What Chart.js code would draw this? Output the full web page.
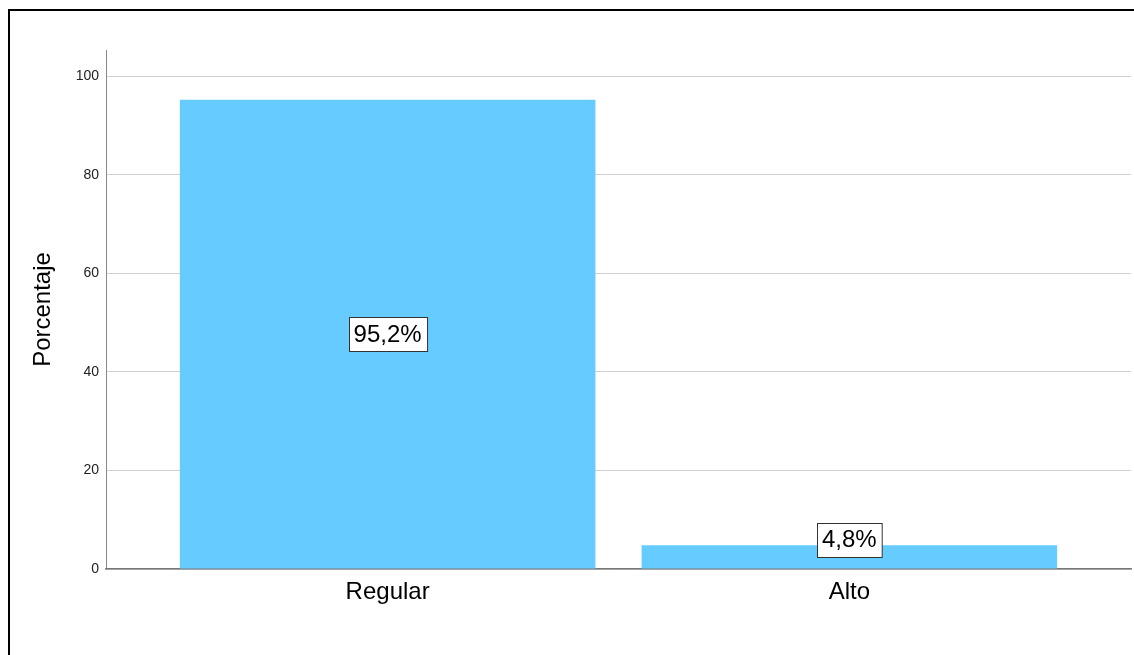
<!DOCTYPE html>
<html>
<head>
<meta charset="utf-8">
<script src="https://cdn.jsdelivr.net/npm/chart.js@4.4.1/dist/chart.umd.min.js"></script>
<style>
html,body{margin:0;padding:0;background:#fff;}
#wrap{width:1134px;height:655px;position:relative;}
</style>
</head>
<body>
<div id="wrap"><canvas id="c" width="1134" height="655"></canvas></div>
<script>
const categories = ['Regular', 'Alto'];
const percentages = [95.2, 4.8];
const valueLabels = ['95,2%', '4,8%'];
const yTickValues = [0, 20, 40, 60, 80, 100];
const yTitle = 'Porcentaje';

const FONT = "'Liberation Sans', Arial, sans-serif";

const frame = {
  id: 'frame',
  beforeDraw(chart) {
    const ctx = chart.ctx;
    ctx.save();
    ctx.fillStyle = '#fff';
    ctx.fillRect(0, 0, chart.width, chart.height);
    ctx.strokeStyle = '#000';
    ctx.lineWidth = 2;
    ctx.beginPath();
    ctx.moveTo(9, chart.height);
    ctx.lineTo(9, 10);
    ctx.lineTo(chart.width, 10);
    ctx.stroke();
    ctx.restore();
  }
};

const boxLabels = {
  id: 'boxLabels',
  afterDatasetsDraw(chart) {
    const ctx = chart.ctx;
    const meta = chart.getDatasetMeta(0);
    ctx.save();
    ctx.font = '24px ' + FONT;
    ctx.textAlign = 'center';
    ctx.textBaseline = 'middle';
    meta.data.forEach((el, i) => {
      const txt = valueLabels[i];
      const w = ctx.measureText(txt).width + 10;
      const h = 34;
      const mid = (el.y + el.base) / 2;
      const cy = Math.min(mid, el.base - 29);
      const x0 = Math.round(el.x - w / 2) + 0.5;
      const y0 = Math.round(cy - h / 2) + 0.5;
      ctx.fillStyle = '#fff';
      ctx.fillRect(x0, y0, w, h);
      ctx.strokeStyle = '#333';
      ctx.lineWidth = 1;
      ctx.strokeRect(x0, y0, w, h);
      ctx.fillStyle = '#000';
      ctx.fillText(txt, el.x, cy + 1);
    });
    ctx.restore();
  }
};

new Chart(document.getElementById('c'), {
  type: 'bar',
  data: {
    datasets: [{
      data: percentages.map((v, i) => ({ x: i + 1, y: v })),
      backgroundColor: '#66CCFF',
      borderWidth: 0,
      barPercentage: 0.9,
      categoryPercentage: 1.0
    }]
  },
  options: {
    responsive: false,
    animation: false,
    devicePixelRatio: 1,
    layout: { padding: { left: 0, right: 3, top: 50, bottom: 0 } },
    plugins: { legend: { display: false }, tooltip: { enabled: false } },
    scales: {
      x: {
        type: 'linear',
        offset: false,
        min: 0.39,
        max: 2.61,
        afterBuildTicks(scale) { scale.ticks = categories.map((c, i) => ({ value: i + 1 })); },
        afterFit(scale) { scale.height = 86; },
        ticks: {
          callback: (v) => categories[v - 1] ?? '',
          font: { family: FONT, size: 24 },
          color: '#000',
          padding: 1,
          maxRotation: 0,
          autoSkip: false
        },
        grid: { display: false },
        border: { display: true, color: '#777', width: 1.5 }
      },
      y: {
        min: 0,
        max: 105.3,
        afterBuildTicks(scale) { scale.ticks = yTickValues.map(v => ({ value: v })); },
        afterFit(scale) { scale.width = 106; },
        ticks: {
          font: { family: FONT, size: 14 },
          color: '#222',
          padding: 7
        },
        grid: { color: '#d0d0d0', lineWidth: 1, drawTicks: false },
        border: { display: true, color: '#888', width: 1 },
        title: {
          display: true,
          text: yTitle,
          font: { family: FONT, size: 24 },
          color: '#000',
          padding: { top: 29, bottom: 0 }
        }
      }
    }
  },
  plugins: [frame, boxLabels]
});
</script>
</body>
</html>
